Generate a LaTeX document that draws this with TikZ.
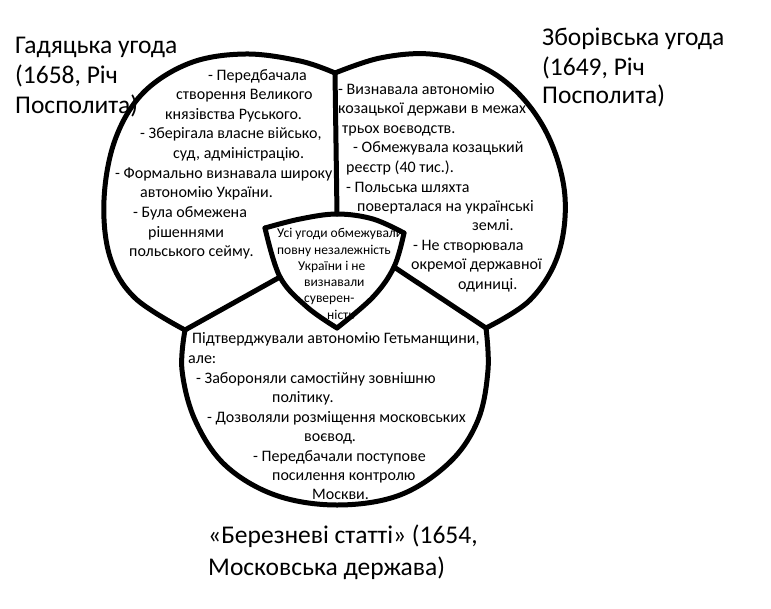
\documentclass[tikz,border=0pt]{standalone}
\usepackage{fontspec}
\setmainfont{Carlito}
\begin{document}
\begin{tikzpicture}[x=1pt,y=-1pt,
  venn/.style={line width=5pt,line join=round,line cap=round},
  title/.style={anchor=base west,inner sep=0pt,font=\fontsize{25.5}{30}\selectfont},
  body/.style={anchor=base west,inner sep=0pt,font=\fontsize{16}{19}\selectfont},
  small/.style={anchor=base west,inner sep=0pt,font=\fontsize{13.5}{16}\selectfont}]
\useasboundingbox (0,0) rectangle (771,608);
% junctions
\coordinate (jt) at (335,73);
\coordinate (jl) at (185,330);
\coordinate (jr) at (486,328);
\coordinate (ttl) at (265,228);
\coordinate (ttr) at (404,233);
\coordinate (ttop) at (337,214);
\coordinate (tbot) at (337,328);
\coordinate (tlm) at (280,277);
\coordinate (trm) at (394,267);
% outer arcs
\draw[venn] plot[smooth,tension=0.6] coordinates {(jt) (300,61) (245,54) (190,63) (143,93) (115,140) (104,200) (110,257) (135,298) (jl)};
\draw[venn] plot[smooth,tension=0.6] coordinates {(jt) (380,58) (430,54) (480,66) (520,95) (550,140) (565,197) (558,255) (530,300) (jr)};
\draw[venn] plot[smooth,tension=0.6] coordinates {(jl) (182,370) (195,420) (225,465) (275,495) (337,505) (400,495) (450,462) (478,420) (488,370) (jr)};
% centre
\draw[venn] plot[smooth,tension=0.6] coordinates {(ttl) (300,219) (ttop) (373,219) (ttr)};
\draw[venn] plot[smooth,tension=0.6] coordinates {(ttr) (trm) (373,297) (tbot)};
\draw[venn] plot[smooth,tension=0.6] coordinates {(tbot) (307,307) (tlm) (ttl)};
% dividers
\draw[venn] (jt) -- (ttop);
\draw[venn] (jl) -- (tlm);
\draw[venn] (jr) -- (trm);
% titles
\node[title] (tA1) at (15,53) {Гадяцька угода};
\node[title] (tA2) at (15,83) {(1658, Річ};
\node[title] (tA3) at (15,113) {Посполита)};
\node[title] (tB1) at (542,45) {Зборівська угода};
\node[title] (tB2) at (542,75) {(1649, Річ};
\node[title] (tB3) at (542,103) {Посполита)};
\node[title] (tC1) at (208,543) {«Березневі статті» (1654,};
\node[title] (tC2) at (208,575) {Московська держава)};
% left text
\node[body] (a1) at (208,80) {- Передбачала};
\node[body] (a2) at (176,99) {створення Великого};
\node[body] (a3) at (165,119) {князівства Руського.};
\node[body] (a4) at (140,138) {- Зберігала власне військо,};
\node[body] (a5) at (173,158) {суд, адміністрацію.};
\node[body] (a6) at (115,178) {- Формально визнавала широку};
\node[body] (a7) at (140,197) {автономію України.};
\node[body] (a8) at (133,217) {- Була обмежена};
\node[body] (a9) at (148,237) {рішеннями};
\node[body] (a10) at (129,256) {польського сейму.};
% right text
\node[body] (b1) at (338,94) {- Визнавала автономію};
\node[body] (b2) at (338,113) {козацької держави в межах};
\node[body] (b3) at (342,133) {трьох воєводств.};
\node[body] (b4) at (353,152) {- Обмежувала козацький};
\node[body] (b5) at (346,172) {реєстр (40 тис.).};
\node[body] (b6) at (346,192) {- Польська шляхта};
\node[body] (b7) at (357,211) {поверталася на українські};
\node[body] (b8) at (472,230) {землі.};
\node[body] (b9) at (413,250) {- Не створювала};
\node[body] (b10) at (411,269) {окремої державної};
\node[body] (b11) at (458,289) {одиниці.};
% centre text
\node[small] (c1) at (277,237) {Усі угоди обмежували};
\node[small] (c2) at (277,254) {повну незалежність};
\node[small] (c3) at (298,270) {України і не};
\node[small] (c4) at (304,286) {визнавали};
\node[small] (c5) at (304,302) {суверен-};
\node[small] (c6) at (327,319) {ність};
% bottom text
\node[body] (d1) at (192,343) {Підтверджували автономію Гетьманщини,};
\node[body] (d2) at (188,363) {але:};
\node[body] (d3) at (196,383) {- Забороняли самостійну зовнішню};
\node[body] (d4) at (272,402) {політику.};
\node[body] (d5) at (207,422) {- Дозволяли розміщення московських};
\node[body] (d6) at (304,441) {воєвод.};
\node[body] (d7) at (253,461) {- Передбачали поступове};
\node[body] (d8) at (272,480) {посилення контролю};
\node[body] (d9) at (312,499) {Москви.};
\end{tikzpicture}
\end{document}
